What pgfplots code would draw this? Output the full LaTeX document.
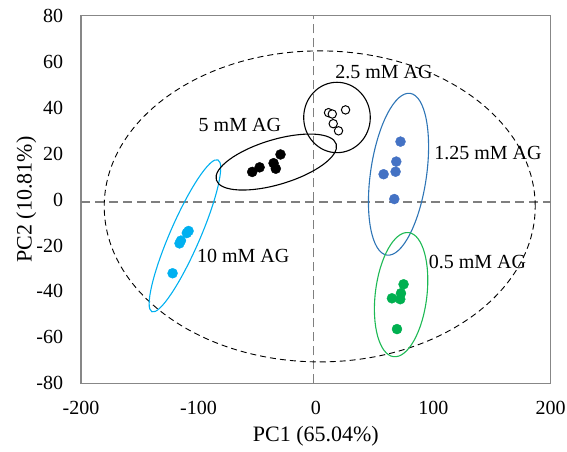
\documentclass[border=0pt]{standalone}
\usepackage{fontspec}
\setmainfont{Liberation Serif}
\usepackage{pgfplots}
\pgfplotsset{compat=1.18}
\definecolor{lblue}{HTML}{00B0F0}
\definecolor{mblue}{HTML}{4472C4}
\definecolor{eblue}{HTML}{2E75B6}
\definecolor{mgreen}{HTML}{00B050}
\definecolor{egreen}{HTML}{1DB954}
\definecolor{framegray}{HTML}{878787}
\definecolor{crossgray}{HTML}{7F7F7F}
\begin{document}
\begin{tikzpicture}
\useasboundingbox (-81pt,-67.7pt) rectangle (486pt,383.3pt);
\begin{axis}[
  at={(0pt,0pt)}, anchor=south west,
  scale only axis, width=469.7pt, height=367.6pt,
  xmin=-200, xmax=200, ymin=-80, ymax=80,
  xtick={-200,-100,0,100,200}, xticklabels={-200,-100,0,100,200},
  ytick={-80,-60,-40,-20,0,20,40,60,80},
  yticklabels={-80,-60,-40,-20,0,20,40,60,80},
  major tick length=0pt,
  axis line style={framegray, line width=1.2pt},
  tick label style={font=\fontsize{20}{24}\selectfont, inner sep=0pt},
  xticklabel style={anchor=north, yshift=-18pt},
  yticklabel style={anchor=east, xshift=-17.7pt},
  xlabel={PC1 (65.04\%)}, ylabel={PC2 (10.81\%)},
  label style={font=\fontsize{22}{26}\selectfont, inner sep=0pt},
  xlabel style={at={(axis description cs:0.5,-0.157)}, anchor=base},
  ylabel style={at={(axis description cs:-0.105,0.5)}, anchor=base},
  clip=false,
]
% crosshair
\addplot[crossgray, line width=1.8pt, dash pattern=on 9pt off 5pt] coordinates {(-200,-1.2) (200,-1.2)};
\addplot[crossgray, line width=1.8pt, dash pattern=on 9pt off 5pt] coordinates {(-2,-80) (-2,80)};

% big dashed ellipse
\draw[black, line width=0.9pt, dash pattern=on 6pt off 4pt] (axis cs:3.3,-3) ellipse [x radius=215.5pt, y radius=155.5pt];

% group ellipses
\draw[lblue, line width=1.1pt] (axis cs:-111.5,-15.8) ellipse [x radius=82.8pt, y radius=15pt, rotate=66.5];
\draw[black, line width=1.1pt] (axis cs:-33.7,16.3) ellipse [x radius=62.6pt, y radius=22.4pt, rotate=16.7];
\draw[black, line width=1.1pt] (axis cs:18.0,35.7) ellipse [x radius=33.3pt, y radius=35.2pt];
\draw[eblue, line width=1.1pt] (axis cs:70.4,11.0) ellipse [x radius=81.7pt, y radius=28pt, rotate=81.8];
\draw[egreen, line width=1.1pt] (axis cs:72.6,-41.4) ellipse [x radius=62.5pt, y radius=25.8pt, rotate=83.1];

% 10 mM AG
\addplot[only marks, mark=*, mark size=5pt, mark options={draw=lblue, fill=lblue}] coordinates {
(-108.4,-13.7) (-109.9,-14.6) (-114.9,-17.9) (-116.1,-19.1) (-122.0,-32.1)};
% 5 mM AG
\addplot[only marks, mark=*, mark size=5pt, mark options={draw=black, fill=black}] coordinates {
(-54.2,12.0) (-47.9,14.0) (-36.0,15.8) (-34.1,13.4) (-30.1,19.6)};
% 2.5 mM AG
\addplot[only marks, mark=*, mark size=4.2pt, mark options={draw=black, fill=white, line width=1pt}] coordinates {
(10.8,37.8) (14.0,37.2) (25.3,39.0) (14.8,33.0) (19.3,29.9)};
% 1.25 mM AG
\addplot[only marks, mark=*, mark size=5pt, mark options={draw=mblue, fill=mblue}] coordinates {
(72.1,25.2) (68.5,16.5) (67.9,12.1) (57.7,11.0) (66.8,0.2)};
% 0.5 mM AG
\addplot[only marks, mark=*, mark size=5pt, mark options={draw=mgreen, fill=mgreen}] coordinates {
(74.7,-36.9) (72.5,-40.8) (64.8,-43.0) (71.9,-43.4) (69.1,-56.4)};

% labels
\begin{scope}[every node/.style={anchor=base west, inner sep=0pt, font=\fontsize{20}{24}\selectfont}]
\node at (axis cs:-101.3,-27.3) {10 mM AG};
\node at (axis cs:-99.9,29.8) {5 mM AG};
\node at (axis cs:16.5,52.8) {2.5 mM AG};
\node at (axis cs:100.8,17.2) {1.25 mM AG};
\node at (axis cs:96.0,-29.9) {0.5 mM AG};
\end{scope}
\end{axis}
\end{tikzpicture}
\end{document}
